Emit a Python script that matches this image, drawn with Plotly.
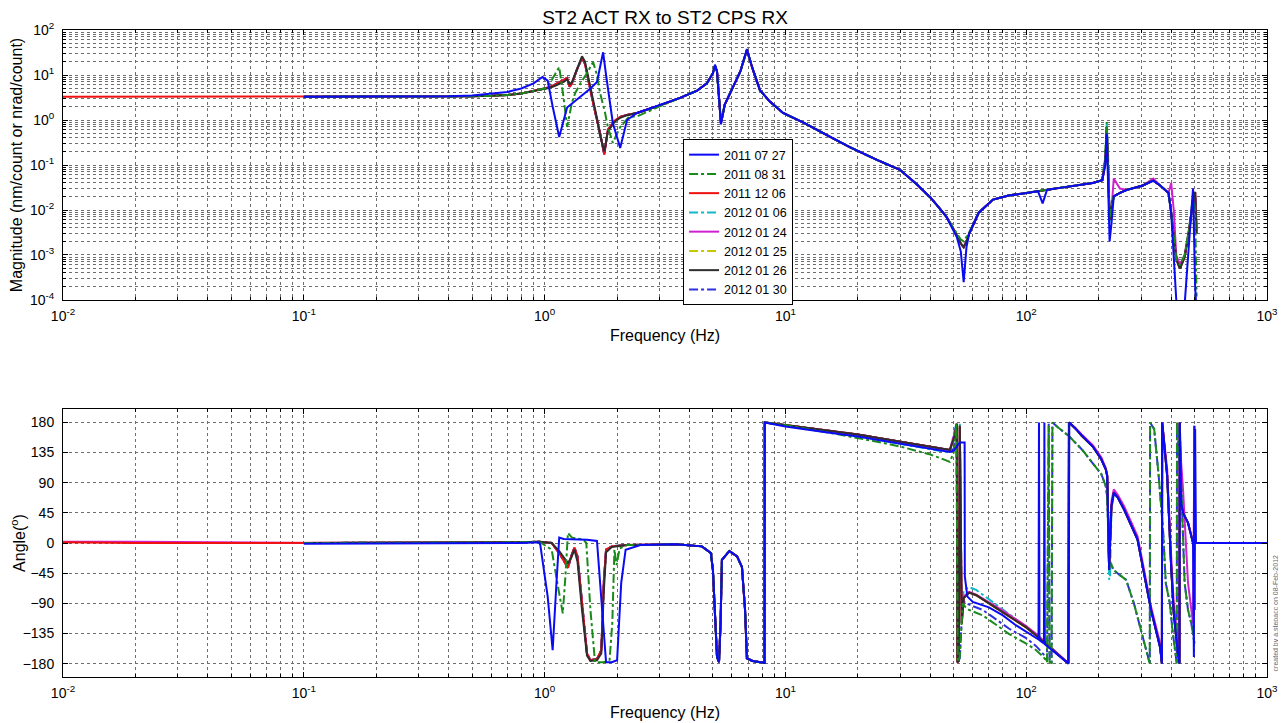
import plotly.graph_objects as go

# ---------------- DATA ----------------
SERIES = ["2011 07 27", "2011 08 31", "2011 12 06", "2012 01 06",
          "2012 01 24", "2012 01 25", "2012 01 26", "2012 01 30"]

X_TICK_EXP = [-2, -1, 0, 1, 2, 3]
Y_TICK_EXP = [-4, -3, -2, -1, 0, 1, 2]
PHASE_TICKS = [-180, -135, -90, -45, 0, 45, 90, 135, 180]

# ---- magnitude ----
MAG_F_RED_EXTRA = [0.01, 0.02, 0.05]
MAG_RED_EXTRA = [3.3, 3.3, 3.3]

MAG_F_LOW = [0.1, 0.2, 0.3, 0.4, 0.5, 0.6, 0.7, 0.8, 0.9]
MAG_LOW_COMMON = [3.3, 3.3, 3.3, 3.3, 3.35, 3.45, 3.6, 3.9, 4.4]
MAG_LOW_BLUE = [3.3, 3.3, 3.3, 3.35, 3.5, 3.8, 4.2, 5.0, 6.5]

MAG_F_MID_BLUE = [0.98, 1.03, 1.08, 1.15, 1.24, 1.4, 1.55, 1.65, 1.70, 1.75,
                  1.8, 1.86, 1.92, 2.06, 2.2]
MAG_MID_BLUE = [9.0, 7.5, 2.0, 0.42, 1.9, 3.2, 5.0, 7.0, 14, 32,
                10, 2.5, 0.86, 0.24, 1.0]

MAG_F_MID_COMMON = [1.0, 1.05, 1.1, 1.2, 1.24, 1.27, 1.3, 1.36, 1.43, 1.47,
                    1.52, 1.59, 1.65, 1.70, 1.77, 1.83, 1.95, 2.06, 2.2]
MAG_MID_COMMON = [5.0, 5.4, 6.0, 7.8, 8.6, 5.5, 6.5, 12.9, 23.9, 18,
                  7.0, 2.4, 1.0, 0.51, 0.17, 0.6, 0.95, 1.17, 1.3]
MAG_MID_BLACK = [4.9, 5.2, 5.7, 7.0, 8.0, 6.2, 7.0, 13.5, 26, 20,
                 8.0, 2.8, 1.1, 0.45, 0.2, 0.55, 0.9, 1.12, 1.28]

MAG_F_MID_GREEN = [1.0, 1.05, 1.1, 1.15, 1.2, 1.24, 1.3, 1.34, 1.42, 1.5,
                   1.59, 1.65, 1.70, 1.78, 1.83, 1.92, 2.0, 2.06, 2.24]
MAG_MID_GREEN = [5.0, 6.5, 10, 15, 3.0, 0.7, 2.5, 4.0, 7.0, 11,
                 19.5, 10, 4.0, 1.5, 0.7, 0.31, 0.5, 0.7, 1.17]

HF_F = [2.42, 3.0, 3.65, 4.3, 4.72, 5.0, 5.1, 5.2, 5.3, 5.4,
        5.6, 6.05, 6.5, 6.92, 7.3, 7.84, 8.6, 9.78, 12, 15,
        18.5, 24, 29.9, 35, 40, 43, 46.6, 49, 51.5, 53.5,
        55, 56.5, 58, 63.5, 72.8, 84.6, 100, 112, 117, 122,
        138, 189, 207, 213, 216, 219, 222, 226, 231, 245,
        262, 305, 337, 360, 390, 400, 410, 420, 435, 455,
        475, 493, 503, 510]
MAG_HF_COMMON = [1.43, 2.1, 3.1, 4.5, 6.5, 11, 16, 12, 3.0, 0.86,
                 2.2, 5.4, 12, 36, 14, 4.6, 2.6, 1.43, 0.85, 0.45,
                 0.25, 0.13, 0.078, 0.038, 0.019, 0.012, 0.0071, 0.0045, 0.0028, 0.0018,
                 0.0015, 0.002, 0.003, 0.0087, 0.017, 0.021, 0.024, 0.026, 0.027, 0.028,
                 0.031, 0.040, 0.046, 0.12, 0.7, 0.08, 0.006, 0.012, 0.02, 0.024,
                 0.028, 0.035, 0.045, 0.035, 0.024, 0.0087, 0.0022, 0.0008, 0.0005, 0.0009,
                 0.0036, 0.017, 0.025, 0.003]
MAG_HF_BLUE = [1.43, 2.1, 3.1, 4.5, 6.5, 11, 17, 12, 3.0, 0.8,
               2.2, 5.4, 12, 38, 14, 4.6, 2.6, 1.43, 0.85, 0.45,
               0.25, 0.13, 0.078, 0.038, 0.019, 0.012, 0.0071, 0.0042, 0.0025, 0.0012,
               0.00025, 0.0015, 0.003, 0.0087, 0.017, 0.021, 0.024, 0.026, 0.014, 0.028,
               0.031, 0.040, 0.046, 0.1, 0.5, 0.05, 0.002, 0.005, 0.02, 0.024,
               0.028, 0.035, 0.045, 0.035, 0.024, 0.0087, 0.0008, 0.0001, 0.00005, 0.00008,
               0.002, 0.03, 0.0002, 0.00005]
MAG_HF_GREEN = [1.2, 2.0, 3.1, 4.5, 6.5, 11, 16, 12, 3.0, 0.9,
                2.2, 5.4, 12, 35, 14, 4.6, 2.6, 1.43, 0.85, 0.45,
                0.25, 0.13, 0.078, 0.038, 0.019, 0.012, 0.0071, 0.0046, 0.003, 0.0022,
                0.002, 0.0025, 0.0032, 0.0087, 0.017, 0.021, 0.024, 0.026, 0.027, 0.028,
                0.031, 0.040, 0.046, 0.15, 0.9, 0.1, 0.007, 0.012, 0.02, 0.024,
                0.028, 0.035, 0.045, 0.035, 0.024, 0.0087, 0.0022, 0.0008, 0.0006, 0.001,
                0.004, 0.02, 0.01, 0.00012]
MAG_HF_MAGENTA = [1.43, 2.1, 3.1, 4.5, 6.5, 11, 16, 12, 3.0, 0.86,
                  2.2, 5.4, 12, 36, 14, 4.6, 2.6, 1.43, 0.85, 0.45,
                  0.25, 0.13, 0.078, 0.038, 0.019, 0.012, 0.0071, 0.0045, 0.0028, 0.0018,
                  0.0015, 0.002, 0.003, 0.0087, 0.017, 0.021, 0.024, 0.026, 0.027, 0.028,
                  0.031, 0.040, 0.046, 0.1, 0.5, 0.06, 0.008, 0.01, 0.05, 0.03,
                  0.028, 0.035, 0.05, 0.035, 0.024, 0.04, 0.01, 0.001, 0.0006, 0.001,
                  0.003, 0.018, 0.022, 0.004]
MAG_HF_CYAN = [1.43, 2.1, 3.1, 4.5, 6.5, 11, 16, 12, 3.0, 0.86,
               2.2, 5.4, 12, 36, 14, 4.6, 2.6, 1.43, 0.85, 0.45,
               0.25, 0.13, 0.078, 0.038, 0.019, 0.012, 0.0071, 0.0045, 0.0028, 0.0018,
               0.0015, 0.002, 0.003, 0.0087, 0.017, 0.021, 0.024, 0.026, 0.027, 0.028,
               0.031, 0.040, 0.046, 0.15, 0.85, 0.15, 0.005, 0.012, 0.02, 0.024,
               0.028, 0.035, 0.045, 0.035, 0.024, 0.0087, 0.0022, 0.0008, 0.0005, 0.0009,
               0.0036, 0.017, 0.025, 0.003]

# ---- phase (degrees) ----
PH_F_RED_EXTRA = [0.01, 0.02, 0.05]
PH_RED_EXTRA = [1, 0, 0]
PH_F_MAGENTA_EXTRA = [0.01, 0.02]
PH_MAGENTA_EXTRA = [2, 2]

PH_F_LOW = [0.1, 0.2, 0.5, 0.8, 0.95]
PH_LOW = [0, 0, 0, 1, 2]
PH_LOW_BLUE = [-1, -1, -1, 0, 1]

PH_F_MID_COMMON = [1.07, 1.15, 1.25, 1.29, 1.33, 1.37, 1.43, 1.5, 1.55, 1.65,
                   1.72, 1.76, 1.8, 1.9, 2.2]
PH_MID_COMMON = [0, -15, -37, -20, -7, -20, -90, -165, -175, -173,
                 -160, -60, -10, -5, -3]
PH_MID_BLACK = [0, -12, -30, -22, -10, -28, -100, -168, -176, -175,
                -165, -75, -14, -6, -3]

PH_F_MID_GREEN = [1.07, 1.13, 1.19, 1.22, 1.25, 1.3, 1.45, 1.49, 1.55, 1.62,
                  1.75, 1.86, 1.91, 1.95, 1.99, 2.05, 2.2]
PH_MID_GREEN = [-10, -60, -105, -50, 15, 8, 5, 0, -100, -178,
                -178, -176, -120, -10, -33, -8, -3]

PH_F_MID_BLUE = [0.96, 1.03, 1.08, 1.12, 1.15, 1.2, 1.5, 1.65, 1.72, 1.8,
                 1.9, 2.0, 2.08, 2.17]
PH_MID_BLUE = [-3, -80, -160, -60, 8, 6, 5, 3, -90, -178,
               -178, -175, -60, -10]

PH_F_RES = [2.5, 3.5, 4.5, 4.9, 5.0, 5.1, 5.2, 5.3, 5.38, 5.45,
            5.68, 5.85, 6.3, 6.6, 6.8, 6.92, 7.3, 8.0, 8.19, 8.21,
            10, 15, 20, 25, 30, 40, 46, 48.2]
PH_RES_UPPER = [-3, -2, -5, -15, -40, -110, -170, -178, -120, -25,
                -18, -12, -20, -36, -100, -172, -176, -178, -179, 180,
                176, 168, 162, 156, 151, 144, 140, 139]
PH_RES_GREEN = [-3, -2, -5, -15, -40, -110, -170, -178, -120, -25,
                -18, -12, -20, -36, -100, -172, -176, -178, -179, 180,
                176, 165, 157, 150, 144, 132, 124, 121]
PH_RES_CYAN = [-3, -2, -5, -15, -40, -110, -170, -178, -120, -25,
               -18, -12, -20, -36, -100, -172, -176, -178, -179, 180,
               176, 167, 160, 153, 148, 140, 136, 135]
PH_RES_BLUE = [-3, -2, -5, -15, -40, -110, -170, -178, -120, -25,
               -18, -12, -20, -36, -100, -172, -176, -178, -179, 180,
               174, 165, 159, 153, 148, 141, 137, 136]

PH_F_HF_UPPER = [50.5, 51.5, 51.8, 52.5, 53, 54, 55, 58, 62, 70,
                 80, 90, 100, 110, 120, 130, 140, 149.5, 150.5, 160,
                 170, 189, 205, 214, 217, 219, 221, 223, 226, 231,
                 240, 255, 270, 290, 305, 330, 360, 366, 367, 385,
                 400, 410, 425, 433, 434, 440, 448, 470, 493, 500]
PH_HF_UPPER = [160, 178, -178, -176, 175, -120, -82, -74, -78, -90,
               -103, -115, -126, -138, -150, -162, -171, -180, 180, 171,
               160, 144, 125, 110, 100, 40, -40, 0, 55, 75,
               68, 50, 30, 5, -36, -100, -156, -180, 180, 100,
               -36, -105, -160, -180, 180, 60, 45, 30, 0, -10]
PH_HF_MAGENTA = [165, 178, -178, -176, 172, -115, -80, -73, -77, -88,
                 -101, -113, -124, -136, -148, -160, -170, -179, 180, 172,
                 162, 146, 128, 112, 102, 50, -20, 20, 62, 80,
                 72, 55, 35, 10, -30, -95, -150, -178, 180, 110,
                 -20, -90, -140, -170, 180, 120, 80, -60, -120, 175]
PH_HF_CYAN = [170, 178, -178, -170, 178, -100, -70, -66, -70, -84,
              -99, -112, -124, -136, -148, -160, -170, -180, 180, 171,
              160, 144, 125, 110, 100, 30, -55, -50, 50, 72,
              68, 50, 30, 5, -36, -100, -156, -180, 180, 100,
              -36, -105, -160, -180, 180, 60, 45, 30, 0, -10]

PH_F_HF_GREEN = [50, 51, 51.3, 52, 53, 54.5, 56, 58, 62, 66,
                 75, 85, 100, 110, 118, 122, 124, 125, 127.5, 128.5,
                 135, 150, 170, 189, 205, 214, 217, 219, 221, 225,
                 230, 245, 260, 280, 300, 326, 327, 340, 355, 370,
                 380, 395, 405, 415, 422, 423, 440, 455, 470, 485, 500]
PH_HF_GREEN = [135, 165, 178, -178, -170, -90, -96, -100, -104, -108,
               -122, -136, -150, -160, -170, -178, 175, -178, -179, 180,
               173, 160, 140, 120, 103, 85, 69, 20, -36, -30,
               -40, -48, -55, -90, -130, -180, 180, 170, 100, 20,
               -60, -90, -130, -160, -180, 180, 90, -60, -100, -120, -150]
PH_HF_BDASH = [140, 168, 178, -178, -172, -85, -90, -92, -96, -100,
               -114, -128, -142, -154, -166, -176, 178, -176, -179, 180,
               173, 160, 140, 120, 103, 85, 69, 20, -36, -30,
               -40, -48, -55, -90, -130, -180, 180, 170, 100, 20,
               -60, -90, -130, -160, -180, 180, 90, -60, -100, -120, -150]

PH_F_HF_BLUE = [50, 52, 53, 55.5, 55.6, 57, 60, 70, 80, 90,
                100, 108, 112.5, 113, 113.5, 118.5, 119, 119.5, 130, 140,
                150, 151, 160, 170, 189, 205, 214, 217, 219, 221,
                223, 226, 231, 240, 255, 270, 290, 305, 330, 360,
                366, 367, 385, 400, 410, 425, 433, 434, 440, 448,
                470, 493, 497, 499, 501, 503, 507, 1000]
PH_HF_BLUE = [138, 145, 150, 150, -50, -80, -88, -96, -108, -122,
              -133, -140, -144, 180, -145, -150, 180, -151, -162, -171,
              -180, 180, 171, 160, 144, 125, 110, 100, 40, -40,
              0, 55, 75, 68, 50, 30, 5, -36, -100, -156,
              -180, 180, 100, -36, -105, -160, -180, 180, 60, 45,
              30, 0, -170, 175, -100, 170, 0, 0]

# ---------------- assemble series ----------------
MAG = {
    "2011 07 27": (MAG_F_LOW + MAG_F_MID_BLUE + HF_F, MAG_LOW_BLUE + MAG_MID_BLUE + MAG_HF_BLUE),
    "2011 08 31": (MAG_F_LOW + MAG_F_MID_GREEN + HF_F, MAG_LOW_COMMON + MAG_MID_GREEN + MAG_HF_GREEN),
    "2011 12 06": (MAG_F_RED_EXTRA + MAG_F_LOW + MAG_F_MID_COMMON + HF_F,
                   MAG_RED_EXTRA + MAG_LOW_COMMON + MAG_MID_COMMON + MAG_HF_COMMON),
    "2012 01 06": (MAG_F_LOW + MAG_F_MID_COMMON + HF_F, MAG_LOW_COMMON + MAG_MID_COMMON + MAG_HF_CYAN),
    "2012 01 24": (MAG_F_LOW + MAG_F_MID_COMMON + HF_F, MAG_LOW_COMMON + MAG_MID_COMMON + MAG_HF_MAGENTA),
    "2012 01 25": (MAG_F_LOW + MAG_F_MID_COMMON + HF_F, MAG_LOW_COMMON + MAG_MID_COMMON + MAG_HF_COMMON),
    "2012 01 26": (MAG_F_LOW + MAG_F_MID_COMMON + HF_F, MAG_LOW_COMMON + MAG_MID_BLACK + MAG_HF_COMMON),
    "2012 01 30": (MAG_F_LOW + MAG_F_MID_COMMON + HF_F, MAG_LOW_COMMON + MAG_MID_COMMON + MAG_HF_COMMON),
}
PHASE = {
    "2011 07 27": (PH_F_LOW + PH_F_MID_BLUE + PH_F_RES + PH_F_HF_BLUE,
                   PH_LOW_BLUE + PH_MID_BLUE + PH_RES_BLUE + PH_HF_BLUE),
    "2011 08 31": (PH_F_LOW + PH_F_MID_GREEN + PH_F_RES + PH_F_HF_GREEN,
                   PH_LOW + PH_MID_GREEN + PH_RES_GREEN + PH_HF_GREEN),
    "2011 12 06": (PH_F_RED_EXTRA + PH_F_LOW + PH_F_MID_COMMON + PH_F_RES + PH_F_HF_UPPER,
                   PH_RED_EXTRA + PH_LOW + PH_MID_COMMON + PH_RES_UPPER + PH_HF_UPPER),
    "2012 01 06": (PH_F_LOW + PH_F_MID_COMMON + PH_F_RES + PH_F_HF_UPPER,
                   PH_LOW + PH_MID_COMMON + PH_RES_CYAN + PH_HF_CYAN),
    "2012 01 24": (PH_F_MAGENTA_EXTRA + PH_F_LOW + PH_F_MID_COMMON + PH_F_RES + PH_F_HF_UPPER,
                   PH_MAGENTA_EXTRA + PH_LOW + PH_MID_COMMON + PH_RES_UPPER + PH_HF_MAGENTA),
    "2012 01 25": (PH_F_LOW + PH_F_MID_COMMON + PH_F_RES + PH_F_HF_UPPER,
                   PH_LOW + PH_MID_COMMON + PH_RES_UPPER + PH_HF_UPPER),
    "2012 01 26": (PH_F_LOW + PH_F_MID_COMMON + PH_F_RES + PH_F_HF_UPPER,
                   PH_LOW + PH_MID_BLACK + PH_RES_UPPER + PH_HF_UPPER),
    "2012 01 30": (PH_F_LOW + PH_F_MID_COMMON + PH_F_RES + PH_F_HF_GREEN,
                   PH_LOW + PH_MID_COMMON + PH_RES_UPPER + PH_HF_BDASH),
}

STYLE = {
    "2011 07 27": ("#0A0AF5", "solid"),
    "2011 08 31": ("#1A8A1A", "dashdot"),
    "2011 12 06": ("#F01010", "solid"),
    "2012 01 06": ("#10B8C8", "dashdot"),
    "2012 01 24": ("#D020D0", "solid"),
    "2012 01 25": ("#C8C800", "dashdot"),
    "2012 01 26": ("#2E2E2E", "solid"),
    "2012 01 30": ("#3030E0", "dashdot"),
}
# drawing order (bottom -> top); legend order is kept by legendrank
DRAW_ORDER = ["2012 01 25", "2012 01 06", "2012 01 24", "2012 01 30",
              "2011 12 06", "2012 01 26", "2011 08 31", "2011 07 27"]

FONT = "Liberation Sans, Arial, Helvetica, sans-serif"
GRID = "#6e6e6e"
LW = 2.0

fig = go.Figure()
for name in DRAW_ORDER:
    color, dash = STYLE[name]
    rank = SERIES.index(name) + 1
    fx, fy = MAG[name]
    fig.add_trace(go.Scatter(x=fx, y=fy, mode="lines", name=name, legendrank=rank,
                             line=dict(color=color, dash=dash, width=LW),
                             xaxis="x", yaxis="y", showlegend=True))
for name in DRAW_ORDER:
    color, dash = STYLE[name]
    px, py = PHASE[name]
    fig.add_trace(go.Scatter(x=px, y=py, mode="lines", name=name,
                             line=dict(color=color, dash=dash, width=LW),
                             xaxis="x2", yaxis="y2", showlegend=False))


def xaxis_cfg(anchor):
    return dict(type="log", range=[-2, 3], anchor=anchor, automargin=False,
                tickvals=[10.0 ** e for e in X_TICK_EXP],
                ticktext=["10<sup>%d</sup>" % e for e in X_TICK_EXP],
                ticklabeloverflow="allow", ticklabelstandoff=3,
                ticks="inside", ticklen=5, tickcolor="black",
                showline=True, linecolor="black", linewidth=1, mirror="ticks",
                showgrid=True, gridcolor=GRID, griddash="dot", gridwidth=1,
                minor=dict(dtick="D1", ticks="inside", ticklen=3, tickcolor="black",
                           showgrid=True, gridcolor=GRID, griddash="dot", gridwidth=1),
                tickfont=dict(size=14, color="black", family=FONT),
                title=dict(text="Frequency (Hz)", font=dict(size=16, color="black", family=FONT),
                           standoff=7),
                zeroline=False)


# the page body adds an 8 px offset, so the figure is 8 px smaller than the window
fig.update_layout(
    width=1278, height=715,
    paper_bgcolor="white", plot_bgcolor="white",
    margin=dict(l=55, r=19, t=22, b=46, autoexpand=False),
    font=dict(family=FONT, color="black", size=13),
    title=dict(text="ST2 ACT RX to ST2 CPS RX", x=0.5, xref="paper", xanchor="center",
               y=1 - 9 / 715, yref="container", yanchor="middle",
               font=dict(size=19, color="black", family=FONT)),
    xaxis=xaxis_cfg("y"),
    xaxis2=xaxis_cfg("y2"),
    yaxis=dict(type="log", range=[-4, 2], domain=[0.5827, 1.0], anchor="x", automargin=False,
               tickvals=[10.0 ** e for e in Y_TICK_EXP],
               ticktext=["10<sup>%d</sup>" % e for e in Y_TICK_EXP],
               ticklabelstandoff=5,
               ticks="inside", ticklen=5, tickcolor="black",
               showline=True, linecolor="black", linewidth=1, mirror="ticks",
               showgrid=True, gridcolor=GRID, griddash="dot", gridwidth=1,
               minor=dict(dtick="D1", ticks="inside", ticklen=3, tickcolor="black",
                          showgrid=True, gridcolor=GRID, griddash="dot", gridwidth=1),
               tickfont=dict(size=14, color="black", family=FONT),
               title=dict(text="Magnitude (nm/count or nrad/count)",
                          font=dict(size=16, color="black", family=FONT), standoff=4),
               zeroline=False),
    yaxis2=dict(range=[-200, 200], domain=[0.0, 0.4142], anchor="x2", automargin=False,
                tickvals=PHASE_TICKS, ticklabelstandoff=5,
                ticks="inside", ticklen=5, tickcolor="black",
                showline=True, linecolor="black", linewidth=1, mirror="ticks",
                showgrid=True, gridcolor=GRID, griddash="dot", gridwidth=1,
                tickfont=dict(size=14, color="black", family=FONT),
                title=dict(text="Angle(<sup>o</sup>)",
                           font=dict(size=16, color="black", family=FONT), standoff=8),
                zeroline=False),
    legend=dict(x=0.515, y=0.8315, xanchor="left", yanchor="top",
                bgcolor="white", bordercolor="black", borderwidth=1,
                font=dict(size=12.5, color="black", family=FONT),
                tracegroupgap=0, itemwidth=30),
    showlegend=True,
)

fig.add_annotation(text="created by a.stepacc on 08-Feb-2012", textangle=-90,
                   xref="paper", yref="paper", x=1.0072, y=0.005,
                   xanchor="center", yanchor="bottom",
                   showarrow=False, font=dict(size=7, color="#666666", family=FONT))

fig.write_html("out.html")
